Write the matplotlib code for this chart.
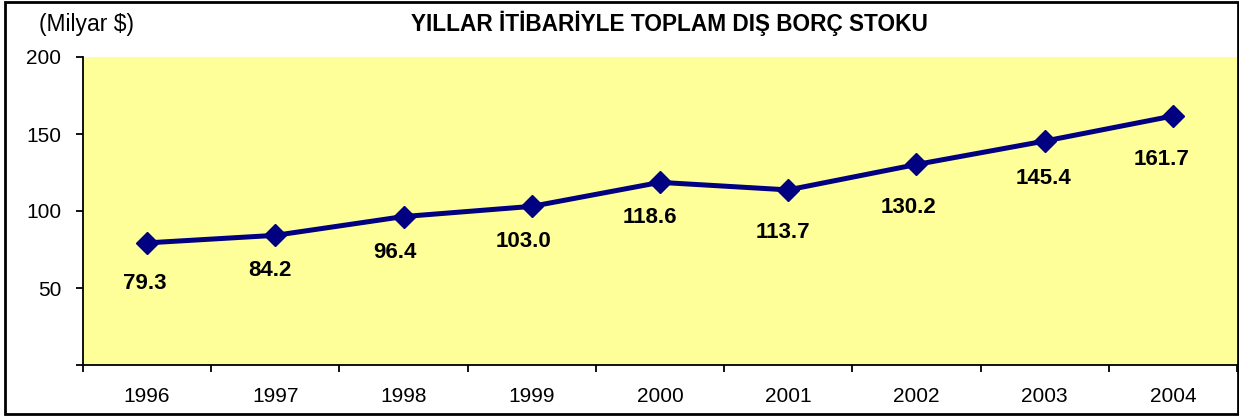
import matplotlib.pyplot as plt
from matplotlib.patches import Rectangle
from matplotlib.ticker import FixedLocator

plt.rcParams['font.family'] = ['Liberation Sans', 'DejaVu Sans']

years = ['1996', '1997', '1998', '1999', '2000', '2001', '2002', '2003', '2004']
debt = [79.3, 84.2, 96.4, 103.0, 118.6, 113.7, 130.2, 145.4, 161.7]
yticks = [0, 50, 100, 150, 200]
yticklabels = ['', '50', '100', '150', '200']

# label offsets in points (Excel placed them a bit unevenly)
label_dx = [-2, -4, -6, -6, -7, -4, -6, -1, -8]
label_dy = [-29, -25, -26, -25, -25, -31, -31, -27, -31]

fig = plt.figure(figsize=(12.39, 4.16), dpi=100)
ax = fig.add_axes([83 / 1239, 1 - 365 / 416, (1237 - 83) / 1239, (365 - 57) / 416])
ax.set_facecolor('#FFFF99')

x = list(range(len(years)))
ax.plot(x, debt, color='#000080', lw=3.6, marker='D', ms=11, mfc='#000080',
        mec='#000080', zorder=3)

for i, v in enumerate(debt):
    ax.annotate(f'{v:.1f}', (x[i], v), xytext=(label_dx[i], label_dy[i]),
                textcoords='offset points', ha='center', va='center',
                fontsize=16, fontweight='bold', color='black')

ax.set_xlim(-0.5, len(years) - 0.5)
ax.set_ylim(0, 200)
ax.set_xticks(x)
ax.set_xticklabels(years, fontsize=15)
ax.xaxis.set_minor_locator(FixedLocator([i - 0.5 for i in range(len(years) + 1)]))
ax.tick_params(axis='x', which='major', length=0, pad=16)
ax.tick_params(axis='x', which='minor', length=5, width=1.3, direction='out')
ax.set_yticks(yticks)
ax.set_yticklabels(yticklabels, fontsize=15)
ax.tick_params(axis='y', length=5, width=1.3, direction='out', pad=10.5)

for s in ['top', 'right']:
    ax.spines[s].set_visible(False)
for s in ['left', 'bottom']:
    ax.spines[s].set_linewidth(1.3)

fig.text(669 / 1239, 1 - 23 / 416, 'YILLAR İTİBARİYLE TOPLAM DIŞ BORÇ STOKU',
         ha='center', va='center', fontsize=16.3, fontweight='bold')
fig.text(39 / 1239, 1 - 24 / 416, '(Milyar $)', ha='left', va='center',
         fontsize=16.5)

fig.patches.append(Rectangle((5 / 1239, 2 / 416), 1233 / 1239, 412 / 416,
                             transform=fig.transFigure, fill=False,
                             edgecolor='black', lw=2))

fig.savefig('out.png', dpi=100)
